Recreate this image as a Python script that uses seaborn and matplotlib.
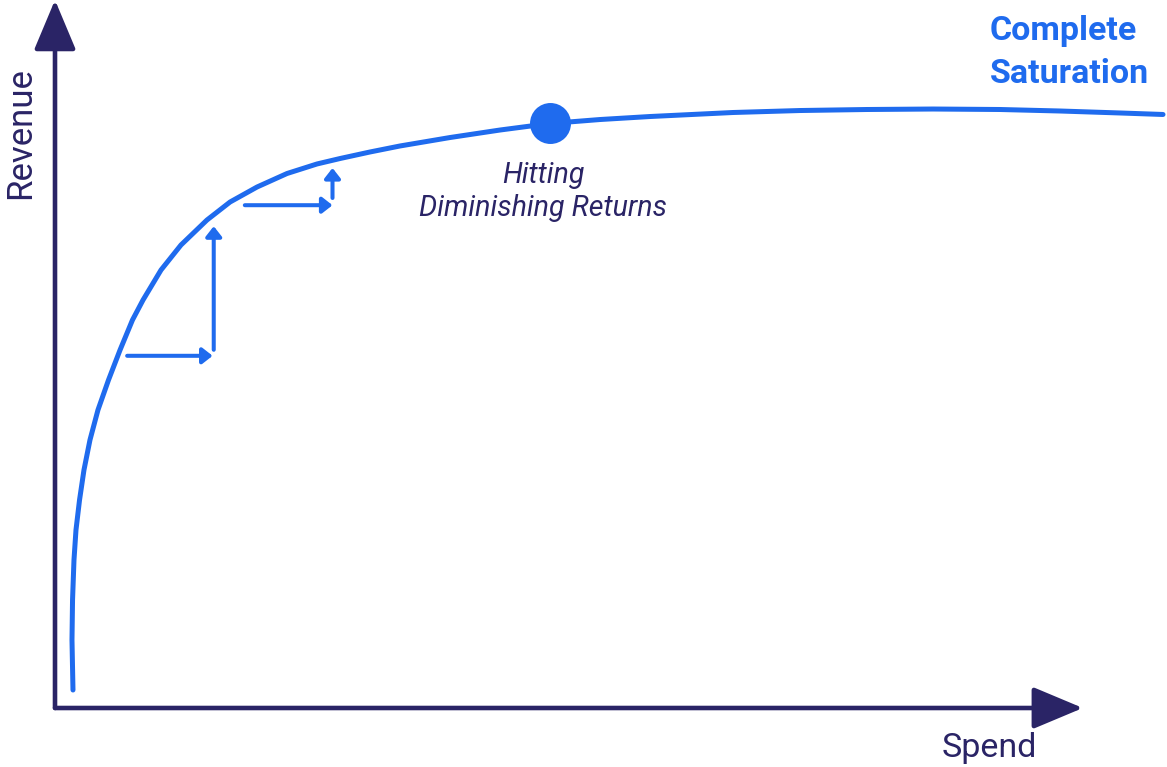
import numpy as np
import pandas as pd
import matplotlib
matplotlib.use('Agg')
import matplotlib.pyplot as plt
import seaborn as sns

# Response curve (spend vs revenue, arbitrary units)
spend = [1.62, 1.53, 1.58, 1.71, 1.89, 2.21, 2.61, 3.15, 3.87, 4.82, 5.86, 6.98,
         7.93, 9.55, 11.35, 13.69, 15.77, 18.20, 20.90, 23.60, 25.68, 28.38,
         31.08, 35.59, 40.09, 44.59, 49.10, 53.60, 61.08, 67.12, 73.15, 79.10,
         85.14, 90.54, 95.95, 99.82]
revenue = [3.00, 11.33, 18.00, 24.67, 29.67, 34.67, 39.67, 44.67, 49.67, 54.67,
           59.67, 64.67, 68.00, 73.00, 77.17, 81.33, 84.33, 86.83, 89.08, 90.67,
           91.58, 92.67, 93.67, 95.08, 96.33, 97.42, 98.08, 98.58, 99.25, 99.58,
           99.75, 99.83, 99.75, 99.50, 99.17, 98.92]

# step arrows (start spend, start revenue, end spend, end revenue)
step_x0 = [6.5, 14.3, 17.1, 25.0]
step_y0 = [58.7, 59.7, 83.8, 85.0]
step_x1 = [14.2, 14.3, 25.0, 25.0]
step_y1 = [58.7, 80.3, 83.8, 90.0]

# diminishing returns point
dim_spend = 44.6
dim_revenue = 97.5

blue = '#1f6bee'
navy = '#2a2466'

sns.set_theme(style='white')
plt.rcParams['font.family'] = ['Roboto', 'DejaVu Sans']

curve = pd.DataFrame({'Spend': spend, 'Revenue': revenue})

fig = plt.figure(figsize=(11.67, 7.67), dpi=100)
ax = fig.add_axes([0, 0, 1, 1])
ax.set_xlim(-4.955, 100.18)
ax.set_ylim(-9.833, 118)
ax.axis('off')

# axes with arrow heads
ax.annotate('', xy=(0, 118), xytext=(0, 0),
            arrowprops=dict(arrowstyle='-|>,head_length=3.1,head_width=1.3',
                            mutation_scale=10, color=navy, lw=3.3,
                            shrinkA=0, shrinkB=0))
ax.annotate('', xy=(92.6, 0), xytext=(0, 0),
            arrowprops=dict(arrowstyle='-|>,head_length=3.1,head_width=1.3',
                            mutation_scale=10, color=navy, lw=3.3,
                            shrinkA=0, shrinkB=0))

# the curve
sns.lineplot(data=curve, x='Spend', y='Revenue', ax=ax, color=blue, lw=3.6,
             sort=False, estimator=None, solid_capstyle='round',
             solid_joinstyle='round')

# small step arrows
for x0, y0, x1, y1 in zip(step_x0, step_y0, step_x1, step_y1):
    ax.annotate('', xy=(x1, y1), xytext=(x0, y0),
                arrowprops=dict(arrowstyle='-|>,head_length=0.6,head_width=0.47',
                                mutation_scale=10, color=blue, lw=2.9,
                                shrinkA=0, shrinkB=0))

ax.scatter([dim_spend], [dim_revenue], s=870, color=blue, zorder=5, linewidths=0)

# labels
ax.text(-2.25, 95.8, 'Revenue', rotation=90, rotation_mode='anchor',
        ha='center', va='baseline', fontsize=25, color=navy)
ax.text(84.2, -8.17, 'Spend', ha='center', va='baseline', fontsize=24.5, color=navy)
ax.text(44.0, 87.5, 'Hitting', ha='center', va='baseline', fontsize=20.6,
        style='italic', color=navy)
ax.text(44.0, 82.0, 'Diminishing Returns', ha='center', va='baseline', fontsize=20.6,
        style='italic', color=navy)
ax.text(84.2, 111.3, 'Complete', ha='left', va='baseline', fontsize=24.5,
        fontweight='bold', color=blue)
ax.text(84.2, 104.2, 'Saturation', ha='left', va='baseline', fontsize=24.5,
        fontweight='bold', color=blue)

fig.savefig('out.png', dpi=100)
